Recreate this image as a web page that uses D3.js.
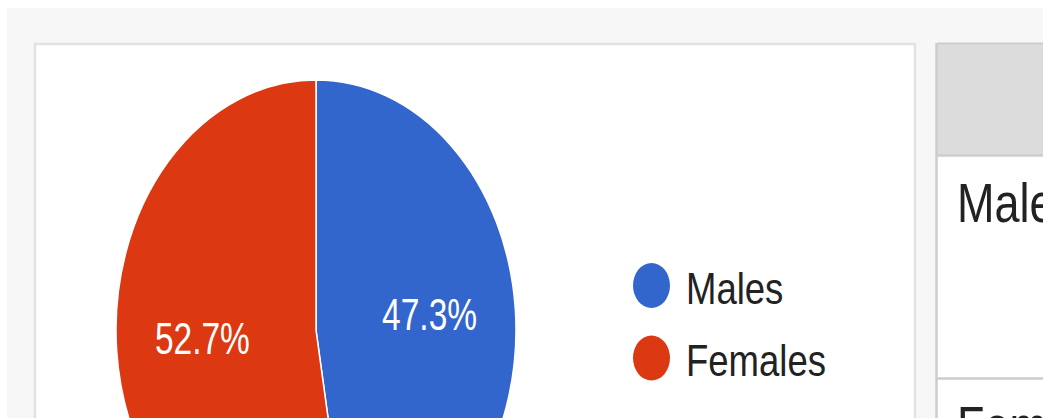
<!DOCTYPE html>
<html>
<head>
<meta charset="utf-8">
<script src="https://cdn.jsdelivr.net/npm/d3@7"></script>
<style>
  html, body { margin: 0; padding: 0; background: #ffffff; }
  svg { display: block; }
  text { font-family: "Liberation Sans", Arial, sans-serif; }
</style>
</head>
<body>
<svg id="chart" width="1043" height="418"></svg>
<script>
// ---- data ----
const categories = ["Males", "Females"];
const values = [47.3, 52.7];
const sliceColors = ["#3366cc", "#dc3912"];
const tableRows = ["Males", "Females"];

const svg = d3.select("#chart");
const W = 1043, H = 418;

// page background / container
svg.append("rect").attr("x", 0).attr("y", 0).attr("width", W).attr("height", H).attr("fill", "#ffffff");
svg.append("rect").attr("x", 7).attr("y", 8).attr("width", W - 7).attr("height", H - 8).attr("fill", "#f7f7f7");

// chart card
svg.append("rect")
  .attr("x", 35).attr("y", 44).attr("width", 880).attr("height", H)
  .attr("fill", "#ffffff").attr("stroke", "#e2e2e2").attr("stroke-width", 2.5);

// table on the right
const tableX = 937;
svg.append("rect").attr("x", tableX).attr("y", 43).attr("width", W - tableX + 5).attr("height", H)
  .attr("fill", "#ffffff");
svg.append("rect").attr("x", tableX).attr("y", 43).attr("width", W - tableX + 5).attr("height", 112)
  .attr("fill", "#dcdcdc");
svg.append("line").attr("x1", tableX).attr("x2", W).attr("y1", 43.5).attr("y2", 43.5)
  .attr("stroke", "#cdcdcd").attr("stroke-width", 2);
svg.append("line").attr("x1", tableX - 0.5).attr("x2", tableX - 0.5).attr("y1", 43).attr("y2", H)
  .attr("stroke", "#cdcdcd").attr("stroke-width", 2.5);
const rowY = d3.scaleBand().domain(tableRows).range([155, 155 + 2 * 223]);
svg.selectAll("line.rowsep").data(tableRows).join("line")
  .attr("class", "rowsep")
  .attr("x1", tableX).attr("x2", W)
  .attr("y1", d => rowY(d) + 0.5).attr("y2", d => rowY(d) + 0.5)
  .attr("stroke", "#cdcdcd").attr("stroke-width", 2.5);
svg.selectAll("text.rowlabel").data(tableRows).join("text")
  .attr("class", "rowlabel")
  .attr("transform", d => `translate(957,${rowY(d) + 67}) scale(1,1.25)`)
  .attr("font-size", 45)
  .attr("fill", "#222222")
  .text(d => d);

// pie
const cx = 316, cy = 330, r = 200, sy = 1.25;
const pie = d3.pie().sort(null).value(d => d.v);
const data = categories.map((c, i) => ({ c, v: values[i], col: sliceColors[i] }));
const arcs = pie(data);
const arc = d3.arc().innerRadius(0).outerRadius(r);
const labelArc = d3.arc().innerRadius(r * 0.57).outerRadius(r * 0.57);

const g = svg.append("g").attr("transform", `translate(${cx},${cy}) scale(1,${sy})`);
g.selectAll("path").data(arcs).join("path")
  .attr("d", arc)
  .attr("fill", d => d.data.col)
  .attr("stroke", "#ffffff")
  .attr("stroke-width", 1.5)
  .attr("vector-effect", "non-scaling-stroke");

const pct = d3.format(".1f");
const total = d3.sum(values);
svg.selectAll("text.slabel").data(arcs).join("text")
  .attr("class", "slabel")
  .attr("transform", d => {
    const [x, y] = labelArc.centroid(d);
    return `translate(${cx + x},${cy + y * sy + 12}) scale(1,1.3)`;
  })
  .attr("text-anchor", "middle")
  .attr("font-size", 33.5)
  .attr("fill", "#ffffff")
  .text(d => pct(d.data.v / total * 100) + "%");

// legend
const legY = d3.scalePoint().domain(categories).range([285.5, 358]);
const leg = svg.selectAll("g.leg").data(data).join("g")
  .attr("class", "leg")
  .attr("transform", d => `translate(0,${legY(d.c)})`);
leg.append("ellipse")
  .attr("cx", 651.5).attr("cy", 0).attr("rx", 18.5).attr("ry", 22.5)
  .attr("fill", d => d.col);
leg.append("text")
  .attr("transform", "translate(686,18) scale(1,1.19)")
  .attr("font-size", 36.5)
  .attr("fill", "#222222")
  .text(d => d.c);
</script>
</body>
</html>
